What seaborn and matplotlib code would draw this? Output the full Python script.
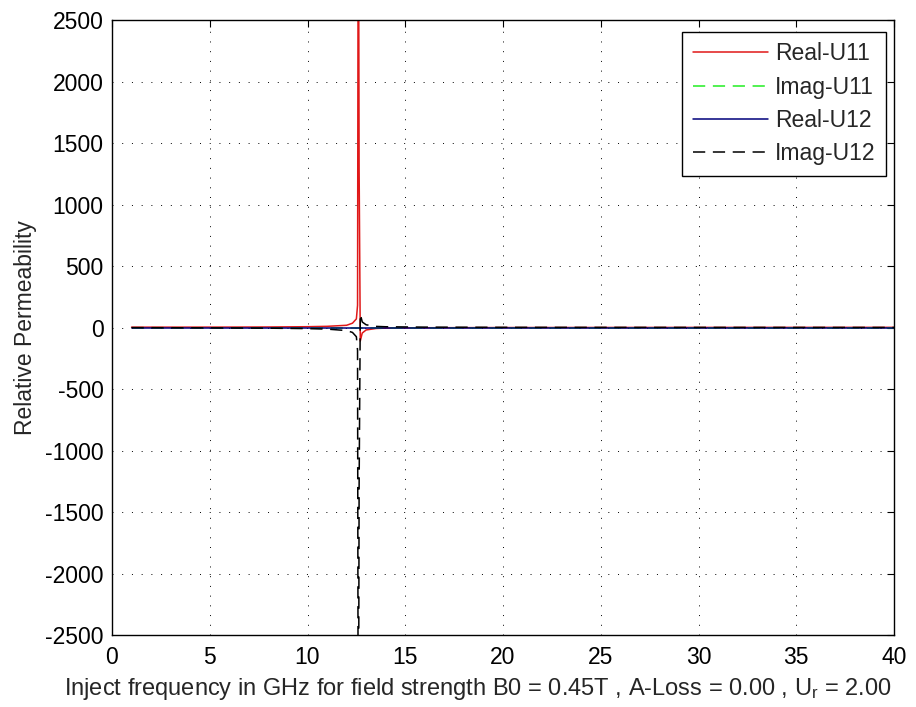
import matplotlib
matplotlib.use("Agg")
import matplotlib.pyplot as plt
import seaborn as sns
import pandas as pd

# Frequency samples (GHz) and permeability tensor components
freq_ghz = [1, 2, 4, 6, 8, 10, 11, 12, 12.3, 12.5, 12.56, 12.6, 12.64, 12.7,
            12.8, 13.0, 13.5, 14, 16, 20, 25, 30, 35, 40]
real_u11 = [2.6, 2.7, 2.9, 3.3, 4.2, 6.5, 9.5, 18, 35, 70, 180, 4200, 1300, -110,
            -45, -20, -8, -5, -2, -0.5, 0.3, 0.8, 1.1, 1.3]
imag_u11 = [0] * len(freq_ghz)
real_u12 = [0] * len(freq_ghz)
imag_u12 = [-0.8, -1.3, -2.5, -3.8, -5.5, -9, -13, -25, -40, -75, -185, -4200, -1300, 110,
            45, 22, 9, 6, 3, 1.5, 1.0, 0.7, 0.5, 0.4]

series_names = ["Real-U11", "Imag-U11", "Real-U12", "Imag-U12"]
series_vals = [real_u11, imag_u11, real_u12, imag_u12]
colors = ["#e01818", "#22ee22", "#00007a", "#000000"]
dashes = [None, (8, 5), None, (8, 5)]

x_ticks = list(range(0, 41, 5))
y_ticks = list(range(-2500, 2501, 500))

sns.set_style("white")
plt.rcParams["font.family"] = ["Liberation Sans", "DejaVu Sans"]
plt.rcParams["mathtext.fontset"] = "custom"
plt.rcParams["mathtext.rm"] = "Liberation Sans"
plt.rcParams["axes.unicode_minus"] = False

FS = 16.5

fig = plt.figure(figsize=(9.16, 7.07), dpi=100)
ax = fig.add_axes([112 / 916, 1 - 635 / 707, (894 - 112) / 916, (635 - 20) / 707])

for name, vals, col, ds in zip(series_names, series_vals, colors, dashes):
    df = pd.DataFrame({"f": freq_ghz, "v": vals})
    sns.lineplot(data=df, x="f", y="v", ax=ax, color=col, lw=1.1,
                 estimator=None, sort=False, label=name)
    if ds is not None:
        ax.lines[-1].set_dashes(ds)

ax.set_xlim(0, 40)
ax.set_ylim(-2500, 2500)
ax.set_xticks(x_ticks)
ax.set_yticks(y_ticks)
ax.tick_params(direction="in", length=5, width=0.8, top=True, right=True,
               labelsize=FS, colors="black")
ax.tick_params(axis="y", pad=6)
ax.tick_params(axis="x", pad=8)
ax.grid(True, color="black", linestyle=(0, (1, 9)), lw=0.7)
for s in ax.spines.values():
    s.set_visible(True)
    s.set_color("black")
    s.set_linewidth(1.0)

ax.set_xlabel(r"Inject frequency in GHz for field strength B0 = 0.45T , A-Loss = 0.00 , $\mathregular{U_r}$ = 2.00",
              fontsize=17)
ax.xaxis.set_label_coords((478 - 112) / 782, -(702 - 635) / 615, transform=ax.transAxes)
ax.xaxis.label.set_va("bottom")
ax.set_ylabel("Relative Permeability", fontsize=FS, labelpad=6)

leg = ax.legend(loc="upper right", bbox_to_anchor=(886 / 916, 1 - 32 / 707),
                bbox_transform=fig.transFigure, fontsize=FS, frameon=True,
                fancybox=False, edgecolor="black", framealpha=1,
                handlelength=3.3, handletextpad=0.3, borderpad=0.45,
                labelspacing=0.45, borderaxespad=0)
leg.get_frame().set_linewidth(1.0)

fig.savefig("out.png", dpi=100, facecolor="white")
